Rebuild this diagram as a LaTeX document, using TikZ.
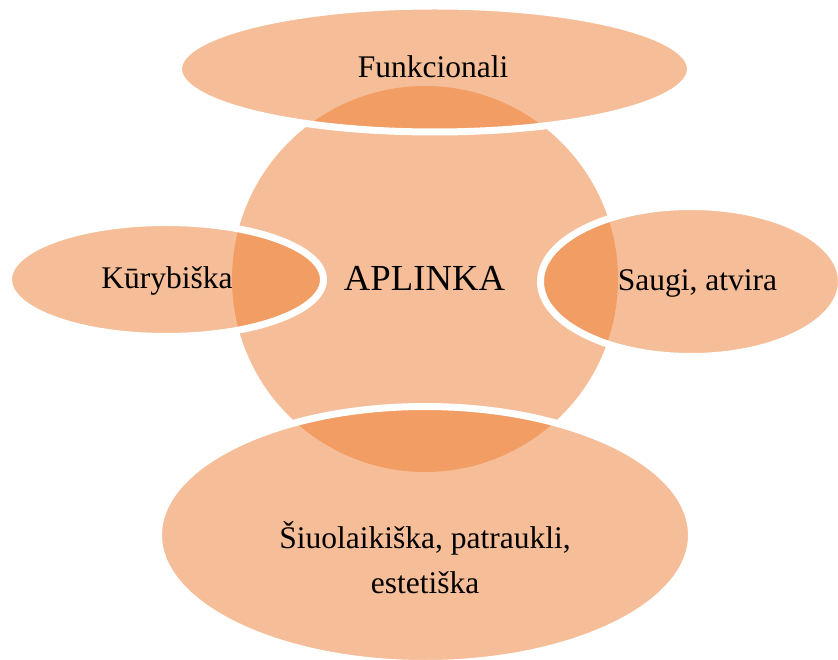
\documentclass[tikz,border=0pt]{standalone}
\usepackage{fontspec}
\setmainfont{Liberation Serif}
\usepackage{xcolor}
\usetikzlibrary{shapes.geometric}
\definecolor{smartorange}{HTML}{ED7D31}
\tikzset{
hub/.style={circle, fill=smartorange, fill opacity=0.5, inner sep=0pt, outer sep=0pt, minimum size=#1},
blob/.style 2 args={ellipse, fill=smartorange, fill opacity=0.5, draw=white, line width=7pt, inner sep=0pt, outer sep=0pt, minimum width=#1, minimum height=#2},
lbl/.style={anchor=base, font=\fontsize{31.5}{45}\selectfont},
}

\begin{document}
\begin{tikzpicture}[x=1pt, y=-1pt]
            \useasboundingbox (0,0) rectangle (838,660);
            \node[hub=386pt] (aplinka) at (425,279) {};
            \node[blob={512pt}{126pt}] (funkc) at (434.5,69) {};
            \node[blob={315pt}{114pt}] (kuryb) at (166,279.5) {};
            \node[blob={301pt}{150pt}] (saugi) at (691,281.5) {};
            \node[blob={533pt}{257pt}] (siuol) at (425,535) {};
            % labels
            \node[anchor=base, font=\fontsize{36.7}{44}\selectfont] (aplinkaT) at (424.5,291) {APLINKA};
            \node[lbl] (funkcT) at (433,78) {Funkcionali};
            \node[lbl] (kurybT) at (167,289) {Kūrybiška};
            \node[lbl] (saugiT) at (697.5,291) {Saugi, atvira};
            \node[lbl, align=center] (siuolT) at (425,593) {Šiuolaikiška, patraukli,\\ estetiška};
\end{tikzpicture}
\end{document}
